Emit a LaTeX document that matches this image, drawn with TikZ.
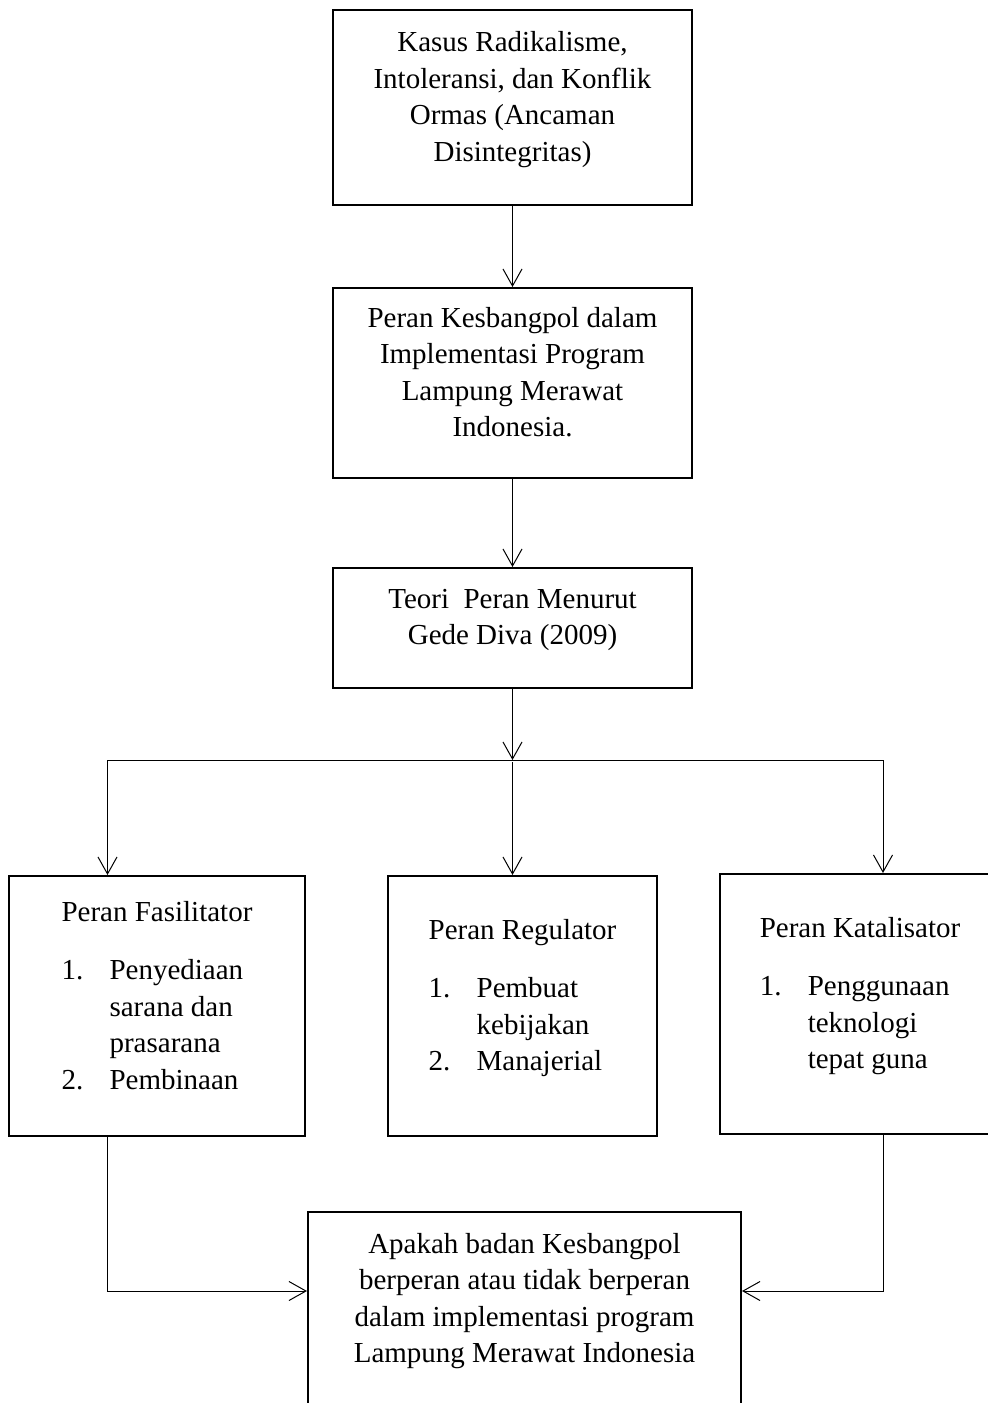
\documentclass[tikz,border=0pt]{standalone}
\usepackage{fontspec}
\setmainfont{Liberation Serif}
\usetikzlibrary{positioning, arrows.meta}

\newcommand{\butir}[1]{\makebox[24pt][l]{#1}}
\newcommand{\sambung}{\hspace*{24pt}}

\begin{document}
\begin{tikzpicture}[x=1pt, y=1pt, >={Straight Barb[length=8.5pt,width=9.5pt]}]
    % Styles
    \tikzstyle{block} = [rectangle, draw, line width=1pt, align=center, inner sep=2pt,
        font=\fontsize{14.5}{18.25}\selectfont, execute at end node={\rule[-11pt]{0pt}{1pt}}]
    \tikzstyle{listblock} = [block, align=left]
    \tikzstyle{arrow} = [line width=0.5pt,->]
    \tikzstyle{line} = [line width=0.5pt]

    \useasboundingbox (0,0) rectangle (494,-701.5);
    \clip (0,0) rectangle (494,-701.5);

    % Nodes
    \node[block, minimum width=179.5pt, minimum height=97.5pt] (kasus) at (256.25,-53.75)
        {Kasus Radikalisme,\\ Intoleransi, dan Konflik\\ Ormas (Ancaman\\ Disintegritas)};
    \node[block, minimum width=179.5pt, minimum height=95pt, below=40.5pt of kasus] (peran)
        {Peran Kesbangpol dalam\\ Implementasi Program\\ Lampung Merawat\\ Indonesia.};
    \node[block, minimum width=179.5pt, minimum height=60pt, below=44pt of peran] (teori)
        {Teori\ \ Peran Menurut\\ Gede Diva (2009)};
    \node[listblock, minimum width=134.5pt, minimum height=130pt, below=93pt of teori, xshift=5pt] (regulator)
        {Peran Regulator\\[11pt] \butir{1.}Pembuat\\ \sambung kebijakan\\ \butir{2.}Manajerial};
    \node[listblock, minimum width=148pt, minimum height=130pt, left=40.5pt of regulator] (fasilitator)
        {Peran Fasilitator\\[11pt] \butir{1.}Penyediaan\\ \sambung sarana dan\\ \sambung prasarana\\ \butir{2.}Pembinaan};
    \node[listblock, minimum width=140pt, minimum height=130pt, right=30.5pt of regulator, yshift=1pt] (katalisator)
        {Peran Katalisator\\[11pt] \butir{1.}Penggunaan\\ \sambung teknologi\\ \sambung tepat guna};
    \node[block, minimum width=216.5pt, minimum height=97pt, below=37pt of regulator, xshift=1pt] (hasil)
        {Apakah badan Kesbangpol\\ berperan atau tidak berperan\\ dalam implementasi program\\ Lampung Merawat Indonesia};

    \coordinate (cabang) at (256.25,-380);
    \coordinate (kiri) at (53.75,-380);
    \coordinate (kanan) at (441.5,-380);

    % Paths
    \draw [arrow] (kasus) -- (peran);
    \draw [arrow] (peran) -- (teori);
    \draw [arrow] (teori) -- (cabang);
    \draw [line] (kiri) -- (kanan);
    \draw [arrow] (kiri) -- (kiri |- fasilitator.north);
    \draw [arrow] ([yshift=-1pt]cabang) -- (cabang |- regulator.north);
    \draw [arrow] (kanan) -- (kanan |- katalisator.north);
    \draw [arrow] (kiri |- fasilitator.south) |- ([yshift=9pt]hasil.west);
    \draw [arrow] (kanan |- katalisator.south) |- ([yshift=9pt]hasil.east);
\end{tikzpicture}
\end{document}
